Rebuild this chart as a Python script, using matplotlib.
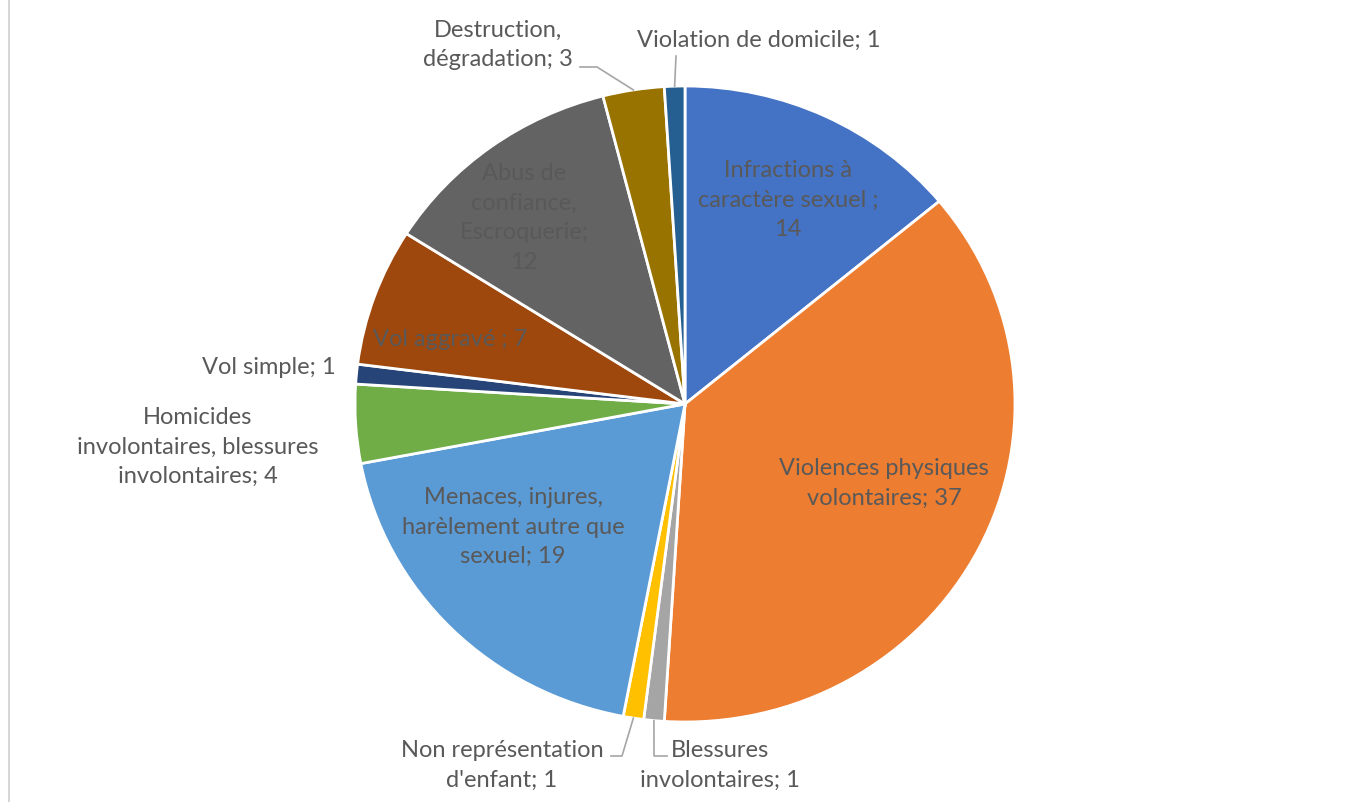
import numpy as np
import matplotlib.pyplot as plt
from matplotlib.lines import Line2D

# Infractions by category (count, clockwise from the top)
categories = [
    "Infractions à\ncaractère sexuel ;\n{}",
    "Violences physiques\nvolontaires; {}",
    "Blessures\ninvolontaires; {}",
    "Non représentation\nd'enfant; {}",
    "Menaces, injures,\nharèlement autre que\nsexuel; {}",
    "Homicides\ninvolontaires, blessures\ninvolontaires; {}",
    "Vol simple; {}",
    "Vol aggravé ; {}",
    "Abus de\nconfiance,\nEscroquerie;\n{}",
    "Destruction,\ndégradation; {}",
    "Violation de domicile; {}",
]
values = [14, 37, 1, 1, 19, 4, 1, 7, 12, 3, 1]
colors = ["#4472C4", "#ED7D31", "#A5A5A5", "#FFC000", "#5B9BD5", "#70AD47",
          "#264478", "#9E480E", "#636363", "#997300", "#255E91"]

W, H = 1351, 803
CX, CY, RX, RY = 685, 405, 330, 318


def to_data(px, py):
    return (px - CX) / RX, (CY - py) / RY


fig = plt.figure(figsize=(W / 100, H / 100), dpi=100)
ax = fig.add_axes([(CX - RX) / W, (H - CY - RY) / H, 2 * RX / W, 2 * RY / H])

wedges, _ = ax.pie(values, colors=colors, startangle=90, counterclock=False,
                   wedgeprops=dict(edgecolor="white", linewidth=2))
ax.set_aspect("auto")
ax.set_xlim(-1, 1)
ax.set_ylim(-1, 1)
ax.axis("off")

# label placement (pixel positions) and alignment
label_pos = [
    (788, 200, "center"),
    (884, 483, "center"),
    (720, 765, "center"),
    (502, 765, "center"),
    (513, 527, "center"),
    (198, 447, "center"),
    (336, 368, "right"),
    (450, 340, "center"),
    (524, 218, "center"),
    (498, 45, "center"),
    (759, 40, "center"),
]

txt_color = "#595959"
for cat, val, (px, py, ha) in zip(categories, values, label_pos):
    x, y = to_data(px, py)
    ax.text(x, y, cat.format(val), ha=ha, va="center", fontsize=17,
            family=["Lato", "DejaVu Sans"], color=txt_color,
            linespacing=1.52, clip_on=False)


def edge_point(w, r=1.0):
    ang = np.deg2rad((w.theta1 + w.theta2) / 2)
    return r * np.cos(ang), r * np.sin(ang)


# leader lines for the thin slices
leaders = {
    2: [(654, 757), (667, 757)],
    3: [(622, 757), (611, 757)],
    9: [(597, 68), (580, 68)],
    10: [(676, 57)],
}
lead_color = "#A6A6A6"
for idx, pts in leaders.items():
    x0, y0 = edge_point(wedges[idx])
    xs = [x0] + [to_data(*p)[0] for p in pts]
    ys = [y0] + [to_data(*p)[1] for p in pts]
    ax.plot(xs, ys, color=lead_color, linewidth=1.2, clip_on=False)

# chart area border on the left
fig.add_artist(Line2D([9 / W, 9 / W], [0, 1], transform=fig.transFigure,
                      color="#D0D0D0", linewidth=1.2))

fig.savefig("out.png", dpi=100)
